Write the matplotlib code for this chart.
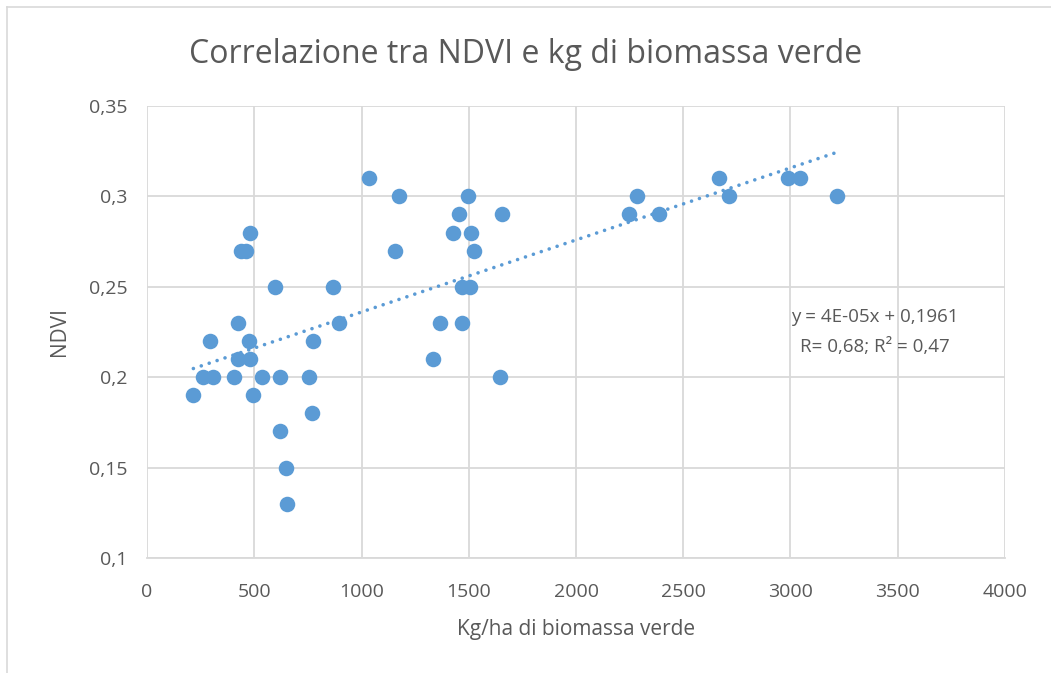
import numpy as np
import matplotlib
matplotlib.use("Agg")
import matplotlib.pyplot as plt
from matplotlib.ticker import FuncFormatter

# biomass (kg/ha) and NDVI
biomassa = [216, 263, 294, 309, 407, 423, 426, 438, 462, 477, 480, 482, 493,
            536, 595, 620, 622, 647, 651, 755, 769, 775, 866, 897,
            1036, 1156, 1177, 1335, 1366, 1425, 1455, 1467, 1467, 1497,
            1506, 1511, 1526, 1647, 1655,
            2246, 2286, 2386, 2665, 2715, 2990, 3044, 3215]
ndvi = [0.19, 0.20, 0.22, 0.20, 0.20, 0.21, 0.23, 0.27, 0.27, 0.22, 0.28, 0.21, 0.19,
        0.20, 0.25, 0.17, 0.20, 0.15, 0.13, 0.20, 0.18, 0.22, 0.25, 0.23,
        0.31, 0.27, 0.30, 0.21, 0.23, 0.28, 0.29, 0.25, 0.23, 0.30,
        0.25, 0.28, 0.27, 0.20, 0.29,
        0.29, 0.30, 0.29, 0.31, 0.30, 0.31, 0.31, 0.30]

x_ticks = [0, 500, 1000, 1500, 2000, 2500, 3000, 3500, 4000]
y_ticks = [0.1, 0.15, 0.2, 0.25, 0.3, 0.35]

blue = "#5B9BD5"
grey = "#595959"
plt.rcParams['font.family'] = ['Open Sans', 'DejaVu Sans']

fig = plt.figure(figsize=(10.51, 6.73), dpi=100)
ax = fig.add_axes([0.1399, 0.1709, 0.8163, 0.6716])

ax.scatter(biomassa, ndvi, s=125, color=blue, zorder=3, linewidths=0)

# linear trendline
x = np.array(biomassa, dtype=float)
y = np.array(ndvi)
m, q = np.polyfit(x, y, 1)
xs = np.array([x.min(), x.max()])
ax.plot(xs, m * xs + q, color=blue, lw=2.6, linestyle=(0, (0.01, 2.3)),
        dash_capstyle='round', zorder=2)

ax.set_xlim(0, 4000)
ax.set_ylim(0.1, 0.35)
ax.set_xticks(x_ticks)
ax.set_yticks(y_ticks)
ax.yaxis.set_major_formatter(FuncFormatter(lambda v, p: f"{v:g}".replace('.', ',')))
ax.grid(True, color="#d9d9d9", lw=1.3)
ax.set_axisbelow(True)
for s in ['top', 'right', 'left']:
    ax.spines[s].set_visible(False)
ax.spines['bottom'].set_color("#d9d9d9")
ax.spines['bottom'].set_linewidth(1.3)
ax.tick_params(length=0, labelsize=14, labelcolor=grey)
ax.tick_params(axis='x', pad=18)
ax.tick_params(axis='y', pad=14)

ax.set_xlabel("Kg/ha di biomassa verde", fontsize=15, color=grey, labelpad=13)
ax.set_ylabel("NDVI", fontsize=15, color=grey, labelpad=14)
fig.text(0.5, 0.919, "Correlazione tra NDVI e kg di biomassa verde",
         ha='center', va='center', fontsize=23, color=grey)

ax.text(0.848, 0.533, "y = 4E-05x + 0,1961", transform=ax.transAxes,
        ha='center', va='center', fontsize=13.5, color=grey)
ax.text(0.848, 0.467, "R= 0,68; R² = 0,47", transform=ax.transAxes,
        ha='center', va='center', fontsize=13.5, color=grey)

# chart area border
fig.add_artist(plt.Line2D([0.0071, 0.0071], [0, 0.9903], color="#d9d9d9", lw=1.2))
fig.add_artist(plt.Line2D([0.0071, 1], [0.9903, 0.9903], color="#d9d9d9", lw=1.2))

fig.savefig("out.png", dpi=100)
